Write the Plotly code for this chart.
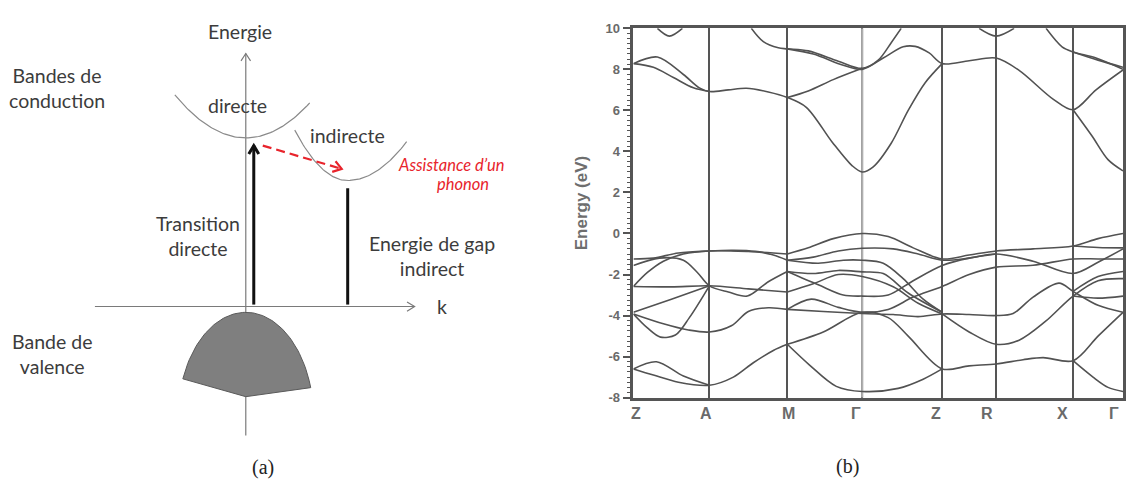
import numpy as np
import plotly.graph_objects as go

W, H = 1126, 489

# ------------------------------------------------------------------
# Panel (b): band structure data  (k = distance along path, E in eV)
# ------------------------------------------------------------------
kpts = [0, 76, 154, 229, 309, 363, 440, 490]
klabels = ["Z", "A", "M", "Γ", "Z", "R", "X", "Γ"]
ytick_vals = [10, 8, 6, 4, 2, 0, -2, -4, -6, -8]
ytick_text = ["10", "8", "6", "4", "2", "0", "-2", "-4", "-6", "-8"]

# conduction bands
cb1 = [(0, 8.28), (24, 8.6), (50, 7.75), (66, 7.1), (76, 6.92), (95, 7.0), (113, 7.08), (135, 6.9),
       (154, 6.63), (173, 6.15), (199, 4.45), (219, 3.3), (229, 3.0), (240, 3.25), (258, 4.4),
       (275, 6.0), (292, 7.35), (309, 8.28)]
cb2 = [(0, 8.28), (20, 8.1), (40, 7.6), (60, 7.1), (76, 6.92)]
cb3 = [(154, 6.63), (175, 6.95), (200, 7.5), (229, 8.05)]
cb4 = [(118, 10), (130, 9.35), (145, 9.05), (154, 9.0), (175, 8.9), (205, 8.4), (229, 8.05),
       (245, 8.45), (258, 9.3), (268, 10)]
cb5 = [(154, 9.0), (180, 8.75), (210, 8.2), (229, 8.0), (250, 8.55), (270, 9.1), (282, 9.12),
       (296, 8.8), (309, 8.28), (336, 8.42), (363, 8.55), (386, 7.95), (420, 6.55), (440, 6.03),
       (463, 7.0), (490, 7.97)]
cb6 = [(440, 6.03), (459, 4.75), (475, 3.6), (490, 3.05)]
cb7 = [(413, 10), (429, 9.1), (440, 8.85), (463, 8.55), (490, 8.0)]
cb8 = [(440, 8.85), (465, 8.45), (490, 8.1)]
cb9 = [(24, 10), (36, 9.62), (49, 10)]
cb10 = [(346, 10), (363, 9.62), (381, 10)]

# valence bands
vb1 = [(0, -1.24), (20, -1.2), (45, -0.95), (76, -0.85), (100, -0.82), (122, -0.87), (140, -1.05), (154, -1.3)]
vb2 = [(0, -1.56), (26, -1.2), (50, -1.3), (64, -1.9), (76, -2.55), (95, -2.85), (114, -3.05),
       (135, -2.35), (154, -1.85)]
vb3 = [(0, -2.58), (14, -1.9), (30, -1.35), (50, -1.0), (76, -0.85), (115, -0.88), (154, -1.0)]
vb4 = [(0, -2.58), (38, -2.6), (76, -2.55), (115, -2.7), (154, -2.85)]
vb5 = [(0, -3.84), (38, -3.2), (76, -2.55)]
vb6 = [(0, -3.92), (14, -4.6), (27, -5.05), (42, -4.95), (56, -4.1), (76, -2.55)]
vb7 = [(0, -3.92), (30, -4.4), (55, -4.7), (76, -4.8), (98, -4.5), (115, -3.8), (135, -3.62), (154, -3.7)]
vb8 = [(0, -6.6), (23, -6.25), (50, -6.95), (76, -7.4)]
vb9 = [(0, -6.6), (20, -6.9), (45, -7.25), (76, -7.4), (100, -7.0), (120, -6.3), (140, -5.7), (154, -5.4)]
vb10 = [(154, -1.0), (175, -0.7), (200, -0.25), (229, 0.0), (255, -0.15), (280, -0.7), (309, -1.24),
        (336, -1.05), (363, -0.85), (400, -0.75), (440, -0.61), (465, -0.25), (490, 0.0)]
vb11 = [(154, -1.3), (180, -1.15), (205, -0.85), (229, -0.72), (260, -0.75), (285, -1.0), (309, -1.3),
        (336, -1.2), (363, -1.0), (400, -1.35), (440, -1.95), (465, -1.4), (490, -0.75)]
vb12 = [(154, -1.3), (185, -1.45), (210, -1.3), (229, -1.3), (250, -1.45), (270, -2.2), (290, -3.2), (309, -3.84)]
vb13 = [(154, -1.85), (180, -1.95), (205, -1.8), (229, -1.87), (250, -1.95), (275, -2.9), (309, -3.84)]
vb14 = [(154, -2.85), (180, -2.45), (205, -2.0), (229, -2.1), (260, -2.6), (285, -3.4), (309, -3.92)]
vb15 = [(154, -1.85), (185, -2.5), (210, -3.0), (229, -3.05), (255, -3.0), (280, -2.3), (309, -1.56),
        (336, -1.2), (363, -1.0)]
vb16 = [(154, -3.7), (178, -3.2), (205, -3.6), (229, -3.84), (255, -3.7), (280, -3.1), (309, -2.58),
        (336, -2.0), (363, -1.64), (400, -1.55), (440, -1.24), (465, -1.24), (490, -1.24)]
vb17 = [(154, -3.7), (190, -3.8), (229, -3.9), (260, -3.95), (285, -4.05), (309, -3.92), (336, -3.95),
        (363, -4.0), (380, -3.9), (400, -3.1), (426, -2.42), (440, -2.82), (465, -3.5), (490, -3.84)]
vb18 = [(154, -5.4), (190, -4.8), (229, -3.84), (255, -4.1), (275, -5.0), (309, -6.6), (336, -6.45),
        (363, -6.36), (390, -6.15), (410, -6.05), (440, -6.2), (465, -5.0), (490, -3.84)]
vb19 = [(154, -5.4), (176, -6.4), (203, -7.45), (229, -7.7), (265, -7.55), (290, -7.1), (309, -6.6)]
vb20 = [(309, -3.92), (336, -4.8), (363, -5.4), (386, -5.2), (412, -4.3), (440, -3.05), (465, -2.3), (490, -2.2)]
vb21 = [(440, -6.2), (460, -7.0), (475, -7.5), (490, -7.7)]
vb22 = [(440, -2.82), (465, -2.1), (490, -1.85)]
vb23 = [(440, -3.05), (465, -3.15), (490, -3.05)]
vb24 = [(440, -0.61), (465, -0.68), (490, -0.7)]

bands = [cb1, cb2, cb3, cb4, cb5, cb6, cb7, cb8, cb9, cb10,
         vb1, vb2, vb3, vb4, vb5, vb6, vb7, vb8, vb9, vb10, vb11, vb12,
         vb13, vb14, vb15, vb16, vb17, vb18, vb19, vb20, vb21, vb22, vb23, vb24]

# ------------------------------------------------------------------
# Panel (a): schematic data (k to the right, E upward, origin at axes crossing)
# ------------------------------------------------------------------
energy_axis_E = [-133, 261]
k_axis_k = [-151, 169]
direct_vertex = (0, 174)
direct_curv = 0.0088
direct_krange = (-71, 64)
indirect_vertex = (102, 130)
indirect_curv = (0.0185, 0.0115)      # left / right curvature
indirect_krange = (49, 161)
valence_top = (0, -6)
valence_semi = (68, 110)              # ellipse semi axes (k, E)
valence_krange = (-63, 65)
valence_bottom_E = -93
direct_transition_k = 8
direct_transition_E = (2, 166)
indirect_gap_k = 102
indirect_gap_E = (2, 122)
phonon_start = (17, 166)
phonon_end = (96, 142)

fig = go.Figure()

AX_A = dict(xaxis="x", yaxis="y", hoverinfo="skip", showlegend=False, mode="lines")


def chevron(tip, frm, size, spread_deg=32):
    ang = np.arctan2(tip[1] - frm[1], tip[0] - frm[0])
    sp = np.deg2rad(spread_deg)
    lx = tip[0] - size * np.cos(ang - sp)
    ly = tip[1] - size * np.sin(ang - sp)
    rx = tip[0] - size * np.cos(ang + sp)
    ry = tip[1] - size * np.sin(ang + sp)
    return [lx, tip[0], rx], [ly, tip[1], ry]


axis_col = "#7a7a7a"
# energy axis
fig.add_trace(go.Scatter(x=[0, 0], y=energy_axis_E, line=dict(color=axis_col, width=1.2), **AX_A))
cx, cy = chevron((0, energy_axis_E[1]), (0, 0), 9)
fig.add_trace(go.Scatter(x=cx, y=cy, line=dict(color=axis_col, width=1.2), **AX_A))
# k axis
fig.add_trace(go.Scatter(x=k_axis_k, y=[0, 0], line=dict(color=axis_col, width=1.2), **AX_A))
cx, cy = chevron((k_axis_k[1], 0), (0, 0), 9)
fig.add_trace(go.Scatter(x=cx, y=cy, line=dict(color=axis_col, width=1.2), **AX_A))

# conduction band parabolas
kd = np.linspace(direct_krange[0], direct_krange[1], 80)
fig.add_trace(go.Scatter(x=kd, y=direct_vertex[1] + direct_curv * (kd - direct_vertex[0]) ** 2,
                         line=dict(color="#8a8a8a", width=1.2), **AX_A))
ki = np.linspace(indirect_krange[0], indirect_krange[1], 80)
curv = np.where(ki < indirect_vertex[0], indirect_curv[0], indirect_curv[1])
fig.add_trace(go.Scatter(x=ki, y=indirect_vertex[1] + curv * (ki - indirect_vertex[0]) ** 2,
                         line=dict(color="#8a8a8a", width=1.2), **AX_A))

# valence band (filled dome)
kv = np.linspace(valence_krange[0], valence_krange[1], 80)
a, b = valence_semi
ev = valence_top[1] - b + b * np.sqrt(np.clip(1 - (kv / a) ** 2, 0, 1))
vx = list(kv) + [0, kv[0]]
vy = list(ev) + [valence_bottom_E, ev[0]]
fig.add_trace(go.Scatter(x=vx, y=vy, fill="toself", fillcolor="#7f7f7f",
                         line=dict(color="#5a5a5a", width=1), **AX_A))

# direct transition arrow (thick black)
fig.add_trace(go.Scatter(x=[direct_transition_k] * 2, y=list(direct_transition_E),
                         line=dict(color="#111111", width=3), **AX_A))
cx, cy = chevron((direct_transition_k, direct_transition_E[1]), (direct_transition_k, 0), 10, 30)
fig.add_trace(go.Scatter(x=cx, y=cy, line=dict(color="#111111", width=3), **AX_A))

# indirect gap bar
fig.add_trace(go.Scatter(x=[indirect_gap_k] * 2, y=list(indirect_gap_E),
                         line=dict(color="#111111", width=3), **AX_A))

# phonon assisted dashed red arrow
red = "#e8242c"
fig.add_trace(go.Scatter(x=[phonon_start[0], phonon_end[0]], y=[phonon_start[1], phonon_end[1]],
                         line=dict(color=red, width=2.2, dash="9px,5px"), **AX_A))
cx, cy = chevron(phonon_end, phonon_start, 10, 35)
fig.add_trace(go.Scatter(x=cx, y=cy, line=dict(color=red, width=2.2), **AX_A))

# ------------------------------------------------------------------
# Panel (b): draw bands
# ------------------------------------------------------------------
fig.add_trace(go.Scatter(x=[kpts[3], kpts[3]], y=[ytick_vals[-1], ytick_vals[0]], mode="lines",
                         line=dict(color="#b0b0b0", width=2.2), xaxis="x2", yaxis="y2",
                         hoverinfo="skip", showlegend=False))
for bnd in bands:
    kk = [p[0] for p in bnd]
    ee = [p[1] for p in bnd]
    fig.add_trace(go.Scatter(x=kk, y=ee, mode="lines",
                             line=dict(color="#525252", width=1.6, shape="spline", smoothing=0.9),
                             xaxis="x2", yaxis="y2", hoverinfo="skip", showlegend=False))

# ------------------------------------------------------------------
# Annotations
# ------------------------------------------------------------------
txt_col = "#3c3c3c"
fa = dict(family="Lato, Open Sans, sans-serif", size=19.5, color=txt_col)
labels_a = [
    ("Energie", -6, 284),
    ("Bandes de<br>conduction", -189, 225.5),
    ("directe", -8, 207),
    ("indirecte", 102, 176),
    ("Transition<br>directe", -48, 73),
    ("Energie de gap<br>indirect", 186, 52.5),
    ("k", 196, 0),
    ("Bande de<br>valence", -194, -48.5),
]
annotations = []
for t, x, y in labels_a:
    annotations.append(dict(text=t, x=x, y=y, xref="x", yref="y", showarrow=False,
                            font=fa, xanchor="center", yanchor="middle", align="center"))
fr = dict(family="Lato, Open Sans, sans-serif", size=16.5, color=red, style="italic")
annotations.append(dict(text="Assistance d’un", x=206, y=146, xref="x", yref="y", showarrow=False,
                        font=fr, xanchor="center", yanchor="middle"))
annotations.append(dict(text="phonon", x=217, y=126, xref="x", yref="y", showarrow=False,
                        font=fr, xanchor="center", yanchor="middle"))
fs = dict(family="Liberation Serif, Times New Roman, serif", size=20, color="#222222")
annotations.append(dict(text="(a)", x=17, y=-166, xref="x", yref="y", showarrow=False,
                        font=fs, yanchor="middle"))
annotations.append(dict(text="(b)", x=848 / W, y=1 - 474 / H, xref="paper", yref="paper",
                        showarrow=False, font=fs, xanchor="center", yanchor="middle"))
annotations.append(dict(text="Energy (eV)", x=582 / W, y=1 - 202 / H, xref="paper", yref="paper",
                        showarrow=False, textangle=-90, xanchor="center", yanchor="middle",
                        font=dict(family="Liberation Sans, Arial, sans-serif", size=17,
                                  color="#6e6e6e", weight="bold")))

# x labels of the band structure (slightly left of their lines, as in the original)
klabel_shift = [3, -3, 1, -6, -6, -9, -11, -9]
for kv_, lab, sh in zip(kpts, klabels, klabel_shift):
    annotations.append(dict(text=lab, x=kv_, y=1 - 419 / H, xref="x2", yref="paper",
                            xshift=sh, showarrow=False, xanchor="center", yanchor="middle",
                            font=dict(family="Liberation Sans, Arial, sans-serif", size=16,
                                      color="#6a6a6a", weight="bold")))

frame_col = "#555555"
fig.update_layout(
    width=W, height=H, margin=dict(l=0, r=0, t=0, b=0, pad=0),
    paper_bgcolor="white", plot_bgcolor="rgba(0,0,0,0)",
    showlegend=False,
    xaxis=dict(domain=[0, 560 / W], range=[-246, 314], visible=False, fixedrange=True),
    yaxis=dict(domain=[0, 1], range=[-180, 309], visible=False, fixedrange=True),
    xaxis2=dict(domain=[634 / W, 1124 / W], range=[kpts[0], kpts[-1]], anchor="y2",
                tickmode="array", tickvals=kpts, ticktext=[""] * len(kpts), ticks="",
                showgrid=True, gridcolor=frame_col, gridwidth=2,
                showline=True, linecolor=frame_col, linewidth=2.5, mirror=True, zeroline=False,
                fixedrange=True),
    yaxis2=dict(domain=[1 - 403 / H, 1 - 22 / H], range=[ytick_vals[-1], ytick_vals[0]], anchor="x2",
                tickmode="array", tickvals=ytick_vals, ticktext=ytick_text,
                ticks="outside", ticklen=8, tickwidth=1.5, tickcolor=frame_col,
                minor=dict(dtick=0.25, tick0=0, ticks="outside", ticklen=4, tickwidth=1,
                           tickcolor=frame_col, showgrid=False),
                showgrid=False, zeroline=False,
                showline=True, linecolor=frame_col, linewidth=2.5, mirror=True, fixedrange=True,
                tickfont=dict(family="Liberation Sans, Arial, sans-serif", size=13, color="#6a6a6a",
                              weight="bold")),
    annotations=annotations,
)

fig.write_html("out.html", config={"displayModeBar": False},
               post_script="document.body.style.margin='0px';")
